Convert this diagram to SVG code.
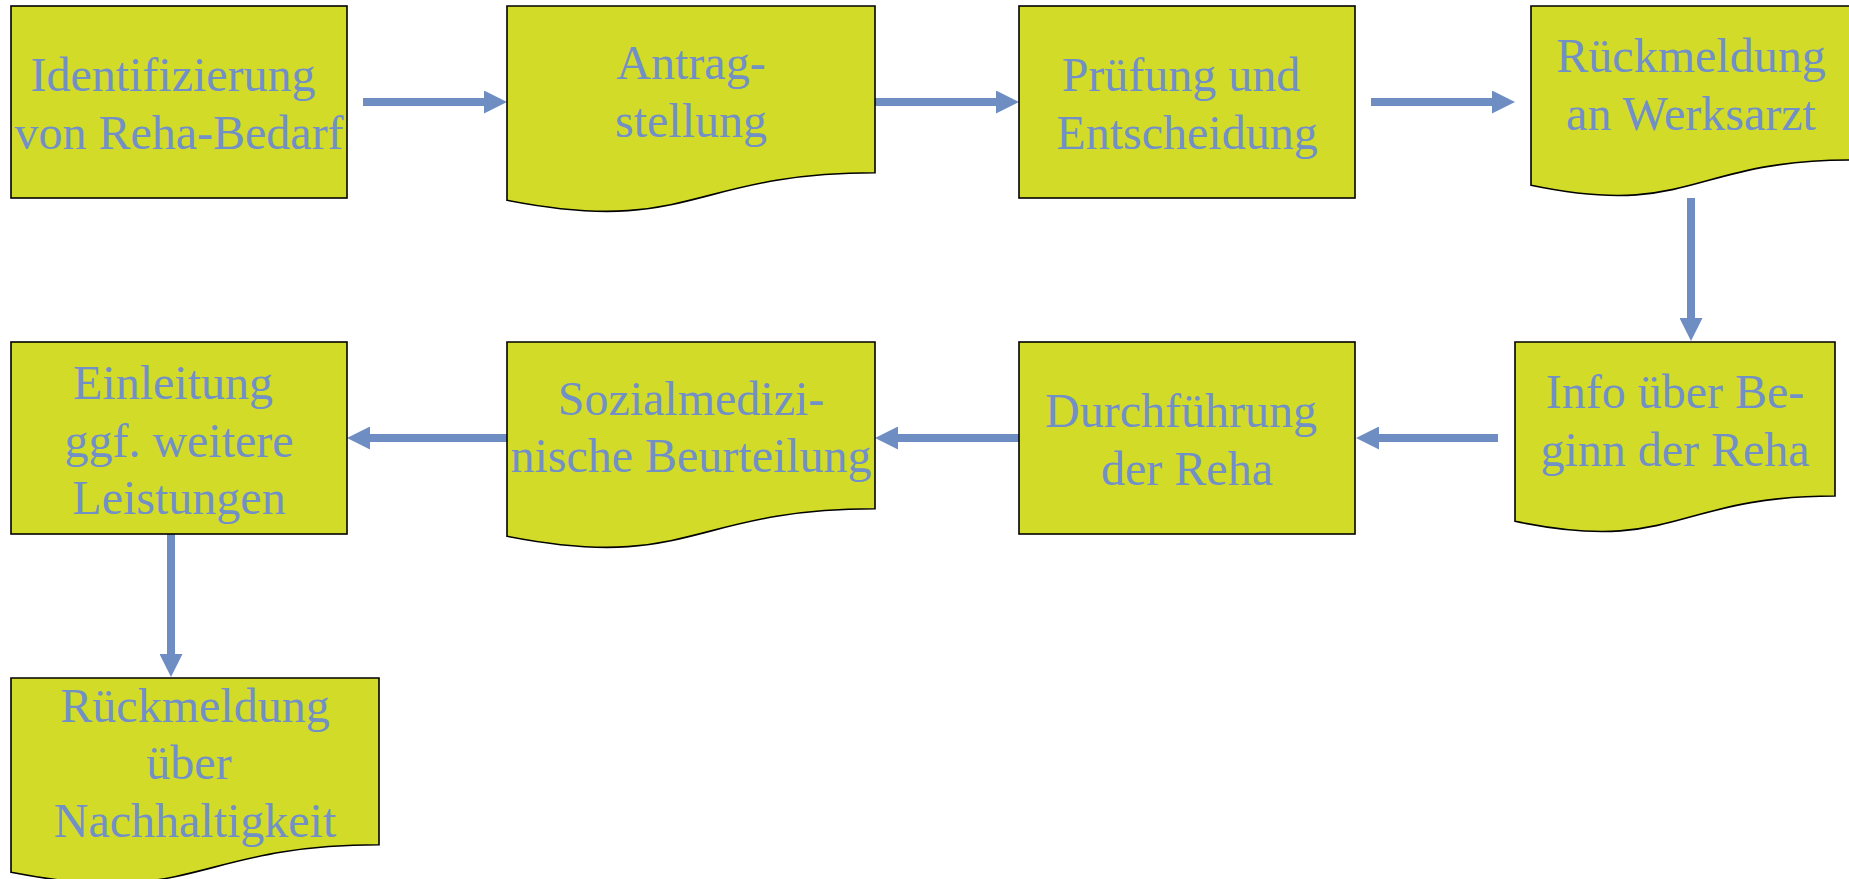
<svg xmlns="http://www.w3.org/2000/svg" width="1849" height="879" viewBox="0 0 1849 879">
<defs>
<style>
.box{fill:#d3db29;stroke:#000;stroke-width:1.6}
.lbl{font-family:"Liberation Serif","Times New Roman",serif;font-size:48px;fill:#7190c6;text-anchor:middle}
.con{fill:none;stroke:#6e8dc3;stroke-width:8;marker-end:url(#ah)}
</style>
<marker id="ah" viewBox="0 0 23 23" refX="3" refY="11.5" markerWidth="23" markerHeight="23" markerUnits="userSpaceOnUse" orient="auto">
<path d="M0,0 L23,11.5 L0,23 Z" fill="#6e8dc3"/>
</marker>
</defs>
<rect width="1849" height="879" fill="#fff"/>
<g id="connectors">
<path class="con" d="M363,102 H487"/>
<path class="con" d="M875,102 H999"/>
<path class="con" d="M1371,102 H1495"/>
<path class="con" d="M1691,198 V321"/>
<path class="con" d="M1498,438 H1376"/>
<path class="con" d="M1019,438 H895"/>
<path class="con" d="M507,438 H367"/>
<path class="con" d="M171,534 V657"/>
</g>
<g id="n1">
<rect class="box" x="11" y="6" width="336" height="192"/>
<text class="lbl"><tspan x="173" y="91">Identifizierung</tspan><tspan x="179" y="148.6">von Reha-Bedarf</tspan></text>
</g>
<g id="n2">
<path class="box" d="M507,6 H875 V172.8 C691,172.8 691,236.4 507,200.3 Z"/>
<text class="lbl"><tspan x="691" y="79">Antrag-</tspan><tspan x="691" y="136.6">stellung</tspan></text>
</g>
<g id="n3">
<rect class="box" x="1019" y="6" width="336" height="192"/>
<text class="lbl"><tspan x="1181" y="91">Prüfung und</tspan><tspan x="1187" y="148.6">Entscheidung</tspan></text>
</g>
<g id="n4">
<path class="box" d="M1531,6 H1851 V160 C1691,160 1691,218.6 1531,185.3 Z"/>
<text class="lbl"><tspan x="1691" y="72">Rückmeldung</tspan><tspan x="1691" y="129.6">an Werksarzt</tspan></text>
</g>
<g id="n5">
<path class="box" d="M1515,342 H1835 V496 C1675,496 1675,554.6 1515,521.3 Z"/>
<text class="lbl"><tspan x="1675" y="408">Info über Be-</tspan><tspan x="1675" y="465.6">ginn der Reha</tspan></text>
</g>
<g id="n6">
<rect class="box" x="1019" y="342" width="336" height="192"/>
<text class="lbl"><tspan x="1181" y="427">Durchführung</tspan><tspan x="1187" y="484.6">der Reha</tspan></text>
</g>
<g id="n7">
<path class="box" d="M507,342 H875 V508.8 C691,508.8 691,572.4 507,536.3 Z"/>
<text class="lbl"><tspan x="691" y="414.5">Sozialmedizi-</tspan><tspan x="691" y="472">nische Beurteilung</tspan></text>
</g>
<g id="n8">
<rect class="box" x="11" y="342" width="336" height="192"/>
<text class="lbl"><tspan x="173" y="399">Einleitung</tspan><tspan x="179" y="456.6">ggf. weitere</tspan><tspan x="179" y="514.2">Leistungen</tspan></text>
</g>
<g id="n9">
<path class="box" d="M11,678 H379 V844.8 C195,844.8 195,908.4 11,872.3 Z"/>
<text class="lbl"><tspan x="195" y="721.7">Rückmeldung</tspan><tspan x="189" y="779.3">über</tspan><tspan x="195" y="836.9">Nachhaltigkeit</tspan></text>
</g>
</svg>
